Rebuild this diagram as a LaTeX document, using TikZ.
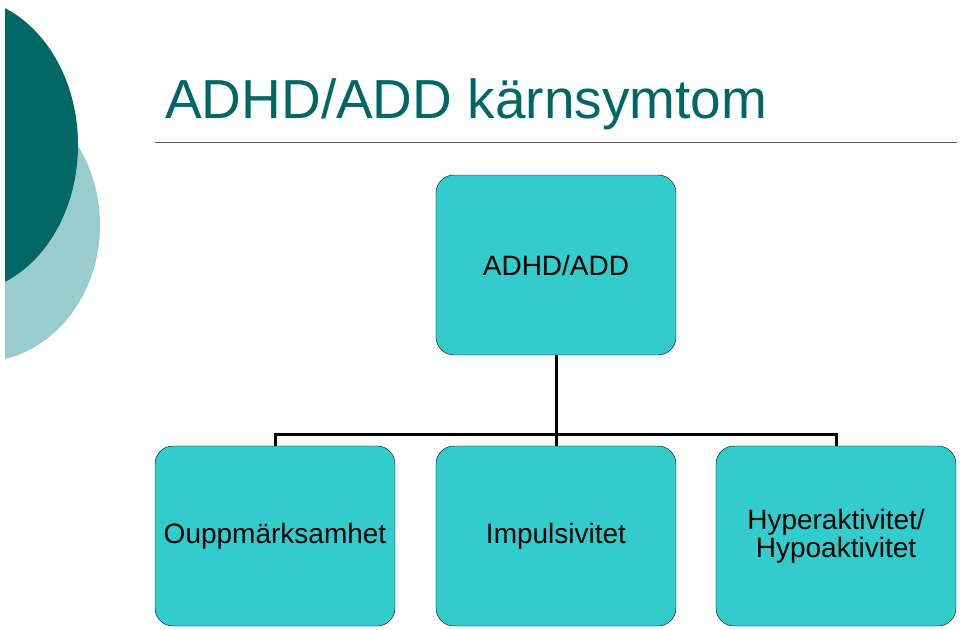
\documentclass[tikz,border=0pt]{standalone}
\usepackage{fontspec}
\setmainfont{Liberation Sans}
\definecolor{darkteal}{RGB}{0,102,102}
\definecolor{lightteal}{RGB}{153,204,204}
\definecolor{boxfill}{RGB}{51,204,204}
\tikzset{
  chartbox/.style={rectangle, rounded corners=18pt, draw=black, fill=boxfill,
    minimum width=240pt, minimum height=180pt, align=center, font=\fontsize{28}{28}\selectfont},
  tree/.style={line width=3pt}
}
\begin{document}
\begin{tikzpicture}[x=1pt,y=-1pt]
  \useasboundingbox (0,0) rectangle (960,629);
  % side decoration
  \begin{scope}
    \clip (5,0) rectangle (200,629);
    \fill[lightteal] (-20,225) ellipse [x radius=120, y radius=137];
    \fill[darkteal] (-40,145) ellipse [x radius=118, y radius=148];
  \end{scope}
  % title
  \node (title) [anchor=base west, text=darkteal, font=\fontsize{55}{55}\selectfont, inner sep=0pt] at (165,118) {ADHD/ADD kärnsymtom};
  \draw[gray!70!black, line width=1pt] (155,142) -- (957,142);
  % boxes
  \node (root) [chartbox] at (556,265) {ADHD/ADD};
  \node (ouppm) [chartbox] at (275,536) {Ouppmärksamhet};
  \node (impuls) [chartbox] at (556,536) {Impulsivitet};
  \node (hyper) [chartbox] at (836,536) {Hyperaktivitet/\\Hypoaktivitet};
  % connectors
  \coordinate (bar) at (556,434);
  \draw[tree] (root.south) -- (bar);
  \draw[tree] (ouppm.north) -- (ouppm.north |- bar) -- (hyper.north |- bar) -- (hyper.north);
  \draw[tree] (bar) -- (impuls.north);
\end{tikzpicture}
\end{document}
